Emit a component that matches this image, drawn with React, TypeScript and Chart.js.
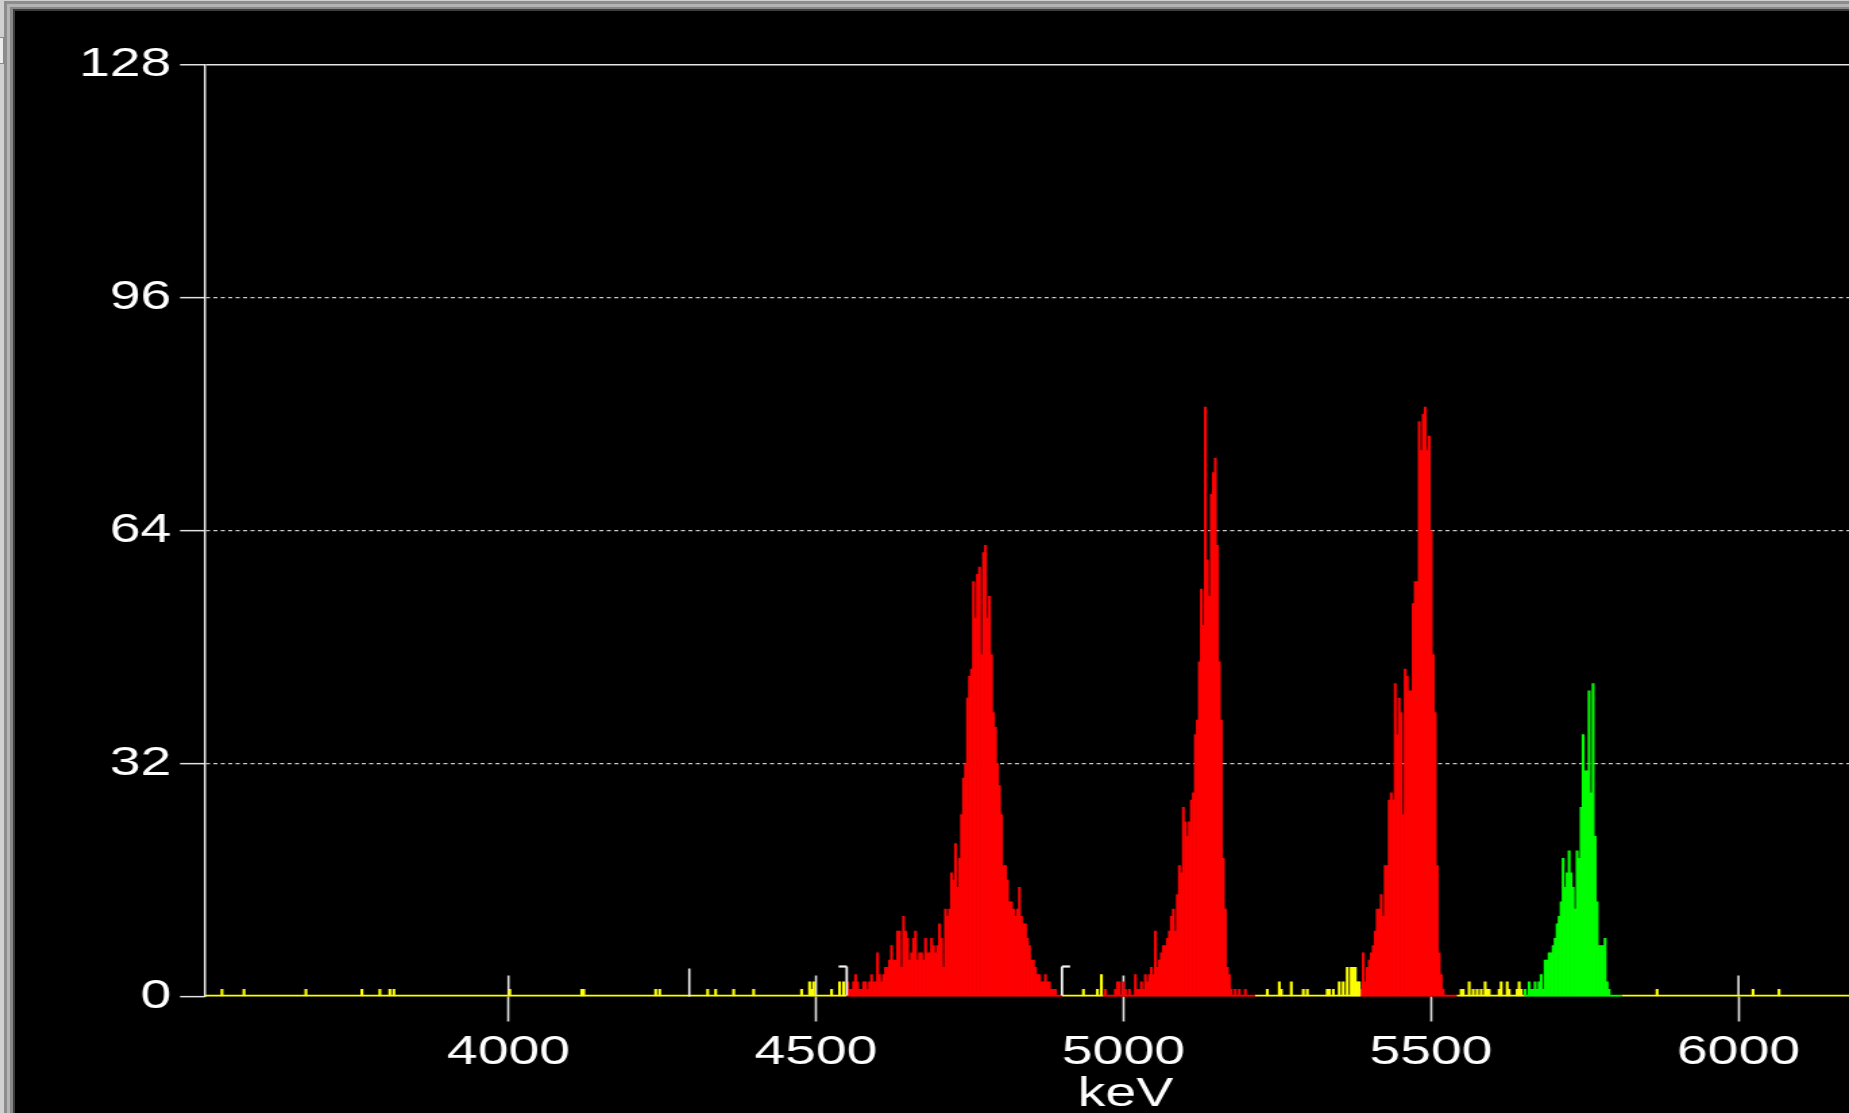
import React, { useEffect, useRef } from 'react';
import { Chart, registerables } from 'chart.js';

Chart.register(...registerables);

// ---------- axis & channel grid ----------
const X_MIN = 3506.5;
const X_MAX = 6500;
const STEP = 3.25; // keV per channel
const X_TICKS = [4000, 4500, 5000, 5500, 6000];
const Y_TICKS = [0, 32, 64, 96, 128];
const Y_MAX = 128;
const X_TITLE = 'keV';

// ---------- regions of interest (start keV of first channel) ----------
const ROI1_START = 4551;
const ROI2_START = 4967;
const ROI3_START = 5386;
const ROI_GREEN_START = 5653;

const ROI1_COUNTS = [
  2, 1, 1, 2, 3, 2, 1, 1, 2, 2,
  1, 2, 3, 2, 2, 6, 3, 2, 3, 4,
  4, 5, 7, 5, 5, 9, 9, 4, 11, 9,
  8, 5, 6, 8, 9, 5, 6, 6, 5, 8,
  6, 6, 8, 7, 6, 7, 10, 8, 4, 12,
  11, 12, 17, 16, 21, 15, 19, 25, 30, 32,
  41, 44, 45, 57, 52, 58, 59, 47, 61, 62,
  52, 55, 47, 39, 37, 32, 29, 25, 18, 18,
  16, 13, 13, 12, 11, 12, 15, 11, 10, 10,
  8, 7, 5, 5, 4, 3, 3, 2, 2, 3,
  2, 2, 1, 1, 1, 0, 0,
];

const ROI2_COUNTS = [
  0, 1, 0, 0, 0, 0, 1, 2, 2, 0,
  2, 1, 0, 1, 0, 0, 3, 1, 1, 2,
  1, 3, 2, 3, 4, 3, 9, 4, 5, 6,
  7, 7, 8, 9, 11, 12, 9, 14, 18, 17,
  26, 24, 22, 24, 27, 28, 36, 38, 46, 56,
  51, 81, 60, 55, 69, 72, 74, 62, 46, 38,
  19, 12, 4, 3, 1, 0, 1, 0, 1, 0,
  0, 1, 0, 0, 0, 0,
];

const ROI3_COUNTS = [
  1, 6, 2, 4, 5, 6, 7, 9, 12, 12,
  14, 11, 18, 18, 27, 28, 27, 43, 36, 41,
  39, 25, 45, 44, 42, 42, 54, 57, 57, 79,
  75, 80, 81, 75, 77, 64, 47, 39, 18, 6,
  3, 1, 0, 0, 0, 0, 0, 0,
];

const GREEN_COUNTS = [
  1, 0, 2, 1, 1, 2, 1, 2, 3, 1,
  5, 5, 6, 6, 7, 8, 10, 11, 13, 19,
  15, 17, 20, 17, 15, 12, 20, 19, 26, 36,
  31, 31, 42, 28, 43, 22, 13, 7, 7, 7,
  8, 2, 1, 0, 0, 0, 0, 0,
];

// ---------- sparse counts outside the regions ----------
const YELLOW_KEV = [
  3535, 3569, 3670, 3761, 3790, 3808, 3813, 4003, 4118, 4122,
  4239, 4247, 4325, 4338, 4365, 4398, 4477, 4490, 4493, 4497,
  4525, 4538, 4544,
  4936, 4957, 4965,
  5235, 5254, 5257, 5273, 5292, 5300, 5330, 5336, 5341, 5352,
  5357, 5363, 5371, 5374, 5376, 5379, 5384,
  5550, 5552, 5563, 5568, 5574, 5580, 5588, 5590, 5596, 5612,
  5615, 5623, 5628, 5639, 5644, 5647,
  5867, 6022, 6066,
];
const YELLOW_COUNTS = [
  1, 1, 1, 1, 1, 1, 1, 1, 1, 1,
  1, 1, 1, 1, 1, 1, 1, 2, 1, 2,
  1, 2, 2,
  1, 1, 3,
  1, 2, 1, 2, 1, 1, 1, 1, 1, 2,
  2, 4, 4, 4, 4, 2, 2,
  1, 1, 2, 1, 1, 1, 2, 1, 1, 1,
  2, 2, 1, 1, 2, 1,
  1, 1, 1,
];

// ---------- zero-count baseline segments ----------
const BASE_KEV = [X_MIN, 4550, 4900, 4967, 5214, 5386, 5542, 5653, 5810, X_MAX];
const BASE_KIND = ['y', 'r', 'y', 'r', 'y', 'r', 'y', 'g', 'y'];

// ---------- markers ----------
const CURSOR_KEV = [4294];
const BRACKET_CLOSE_KEV = [4550];
const BRACKET_OPEN_KEV = [4900];

const COLORS: Record<string, string> = { y: '#ffff00', r: '#ff0000', g: '#00ff00' };
const FONT = 'Liberation Sans, Arial, sans-serif';
const TICK_COLOR = '#e2e2e2';

const chIndex = (kev: number) => Math.round((kev - X_MIN) / STEP);
const chCenter = (ch: number) => X_MIN + (ch + 0.5) * STEP;
const regionPoints = (start: number, counts: number[]) => {
  const c0 = chIndex(start);
  return counts.map((y, i) => ({ x: chCenter(c0 + i), y }));
};

const marksPlugin = {
  id: 'spectrumMarks',
  beforeDatasetsDraw(chart: any) {
    const { ctx, scales } = chart;
    const x = scales.x;
    const y0 = scales.y.getPixelForValue(0);
    ctx.save();
    ctx.strokeStyle = TICK_COLOR;
    ctx.lineWidth = 1.6;
    for (const v of X_TICKS) {
      const px = x.getPixelForValue(v);
      ctx.beginPath();
      ctx.moveTo(px, y0 - 21);
      ctx.lineTo(px, y0);
      ctx.stroke();
    }
    ctx.restore();
  },
  afterDatasetsDraw(chart: any) {
    const { ctx, scales } = chart;
    const x = scales.x;
    const y0 = scales.y.getPixelForValue(0);
    ctx.save();
    ctx.strokeStyle = '#f4f4f4';
    ctx.lineWidth = 1.6;
    for (const v of CURSOR_KEV) {
      const px = x.getPixelForValue(v);
      ctx.beginPath();
      ctx.moveTo(px, y0 - 28);
      ctx.lineTo(px, y0);
      ctx.stroke();
    }
    const drawBracket = (kev: number, dir: number) => {
      const px = x.getPixelForValue(kev);
      ctx.lineWidth = 1.8;
      ctx.beginPath();
      ctx.moveTo(px, y0 - 1);
      ctx.lineTo(px, y0 - 30);
      ctx.stroke();
      ctx.lineWidth = 2.2;
      ctx.beginPath();
      ctx.moveTo(px, y0 - 30);
      ctx.lineTo(px + dir * 6, y0 - 30);
      ctx.stroke();
    };
    BRACKET_CLOSE_KEV.forEach((k) => drawBracket(k, -1));
    BRACKET_OPEN_KEV.forEach((k) => drawBracket(k, 1));
    ctx.restore();
  },
};

// canvas drawing-buffer size and the horizontally stretched CSS size
const CANVAS_W = 1505;
const CANVAS_H = 1102;
const STRETCH = 1.3495;

export default function App() {
  const ref = useRef<HTMLCanvasElement>(null);

  useEffect(() => {
    const canvas = ref.current;
    if (!canvas) return;

    const redData = [
      ...regionPoints(ROI1_START, ROI1_COUNTS),
      ...regionPoints(ROI2_START, ROI2_COUNTS),
      ...regionPoints(ROI3_START, ROI3_COUNTS),
    ];
    const greenData = regionPoints(ROI_GREEN_START, GREEN_COUNTS);
    const yellowData = YELLOW_KEV.map((k, i) => ({
      x: chCenter(Math.floor((k - X_MIN) / STEP)),
      y: YELLOW_COUNTS[i],
    }));
    const baseData = BASE_KEV.map((k) => ({ x: k, y: 0 }));

    const barCommon = {
      type: 'bar' as const,
      barPercentage: 1,
      categoryPercentage: 1,
      grouped: false,
      borderWidth: 0,
      order: 1,
    };

    const chart = new Chart(canvas, {
      type: 'bar',
      data: {
        datasets: [
          { ...barCommon, label: 'counts', data: yellowData as any, backgroundColor: COLORS.y },
          { ...barCommon, label: 'ROI', data: redData as any, backgroundColor: COLORS.r },
          { ...barCommon, label: 'ROI 2', data: greenData as any, backgroundColor: COLORS.g },
          {
            type: 'line' as const,
            label: 'baseline',
            data: baseData as any,
            borderWidth: 3.4,
            pointRadius: 0,
            tension: 0,
            order: 10,
            borderColor: COLORS.y,
            segment: { borderColor: (c: any) => COLORS[BASE_KIND[c.p0DataIndex]] },
          } as any,
        ],
      },
      options: {
        responsive: false,
        animation: false,
        devicePixelRatio: 1,
        events: [],
        layout: { padding: { left: 0, top: 54, right: 0, bottom: 0 } },
        plugins: {
          legend: { display: false },
          tooltip: { enabled: false },
          title: { display: false },
        },
        scales: {
          x: {
            type: 'linear',
            min: X_MIN,
            max: X_MAX,
            offset: false,
            afterBuildTicks: (s: any) => {
              s.ticks = X_TICKS.map((v) => ({ value: v }));
            },
            afterFit: (s: any) => {
              s.height = 116.5;
            },
            grid: {
              display: true,
              offset: false,
              drawOnChartArea: false,
              drawTicks: true,
              tickLength: 25,
              tickColor: TICK_COLOR,
              tickWidth: 1.6,
            },
            border: { display: false },
            ticks: {
              color: '#ffffff',
              font: { family: FONT, size: 41 },
              padding: 7,
              maxRotation: 0,
              autoSkip: false,
              callback: (v: any) => String(v),
            },
            title: {
              display: true,
              text: X_TITLE,
              color: '#ffffff',
              font: { family: FONT, size: 41, lineHeight: 1 },
              padding: { top: 0, bottom: -2 },
            },
          },
          y: {
            type: 'linear',
            min: 0,
            max: Y_MAX,
            afterBuildTicks: (s: any) => {
              s.ticks = Y_TICKS.map((v) => ({ value: v }));
            },
            afterFit: (s: any) => {
              s.width = 140.8;
            },
            grid: {
              color: (c: any) =>
                c.tick && c.tick.value === 0
                  ? 'rgba(0,0,0,0)'
                  : c.tick && c.tick.value === Y_MAX
                  ? '#e6e6e6'
                  : '#cccccc',
              lineWidth: (c: any) => (c.tick && c.tick.value === Y_MAX ? 1.5 : 1.3),
              tickLength: 18.5,
              tickColor: TICK_COLOR,
              tickWidth: 1.5,
            },
            border: {
              display: true,
              color: '#e6e6e6',
              width: 1.5,
              dash: (c: any) => (c.tick && c.tick.value === Y_MAX ? [] : [3, 2.5]),
            },
            ticks: {
              color: '#ffffff',
              font: { family: FONT, size: 41 },
              padding: 6.4,
              callback: (v: any) => String(v),
            },
          },
        },
      } as any,
      plugins: [marksPlugin],
    });

    return () => chart.destroy();
  }, []);

  return (
    <div
      style={{
        position: 'absolute',
        left: 0,
        top: 0,
        width: 1849,
        height: 1113,
        background: '#d0d0d0',
        overflow: 'hidden',
      }}
    >
      <div
        style={{
          position: 'absolute',
          left: 0,
          top: 37,
          width: 3,
          height: 25,
          borderTop: '1px solid #8a8a8a',
          borderBottom: '1px solid #8a8a8a',
          borderRight: '1px solid #8a8a8a',
          background: '#ececec',
        }}
      />
      <div style={{ position: 'absolute', left: 4, top: 1, right: 0, bottom: 0, background: '#8c8c8c' }} />
      <div style={{ position: 'absolute', left: 7, top: 4, right: 0, bottom: 0, background: '#b4b4b4' }} />
      <div style={{ position: 'absolute', left: 10, top: 7, right: 0, bottom: 0, background: '#888888' }} />
      <div style={{ position: 'absolute', left: 13, top: 9, right: 0, bottom: 0, background: '#3c3c3c' }} />
      <canvas
        ref={ref}
        width={CANVAS_W}
        height={CANVAS_H}
        style={{
          position: 'absolute',
          left: 15,
          top: 11,
          width: `${Math.round(CANVAS_W * STRETCH)}px`,
          height: `${CANVAS_H}px`,
          background: '#000000',
        }}
      />
    </div>
  );
}
